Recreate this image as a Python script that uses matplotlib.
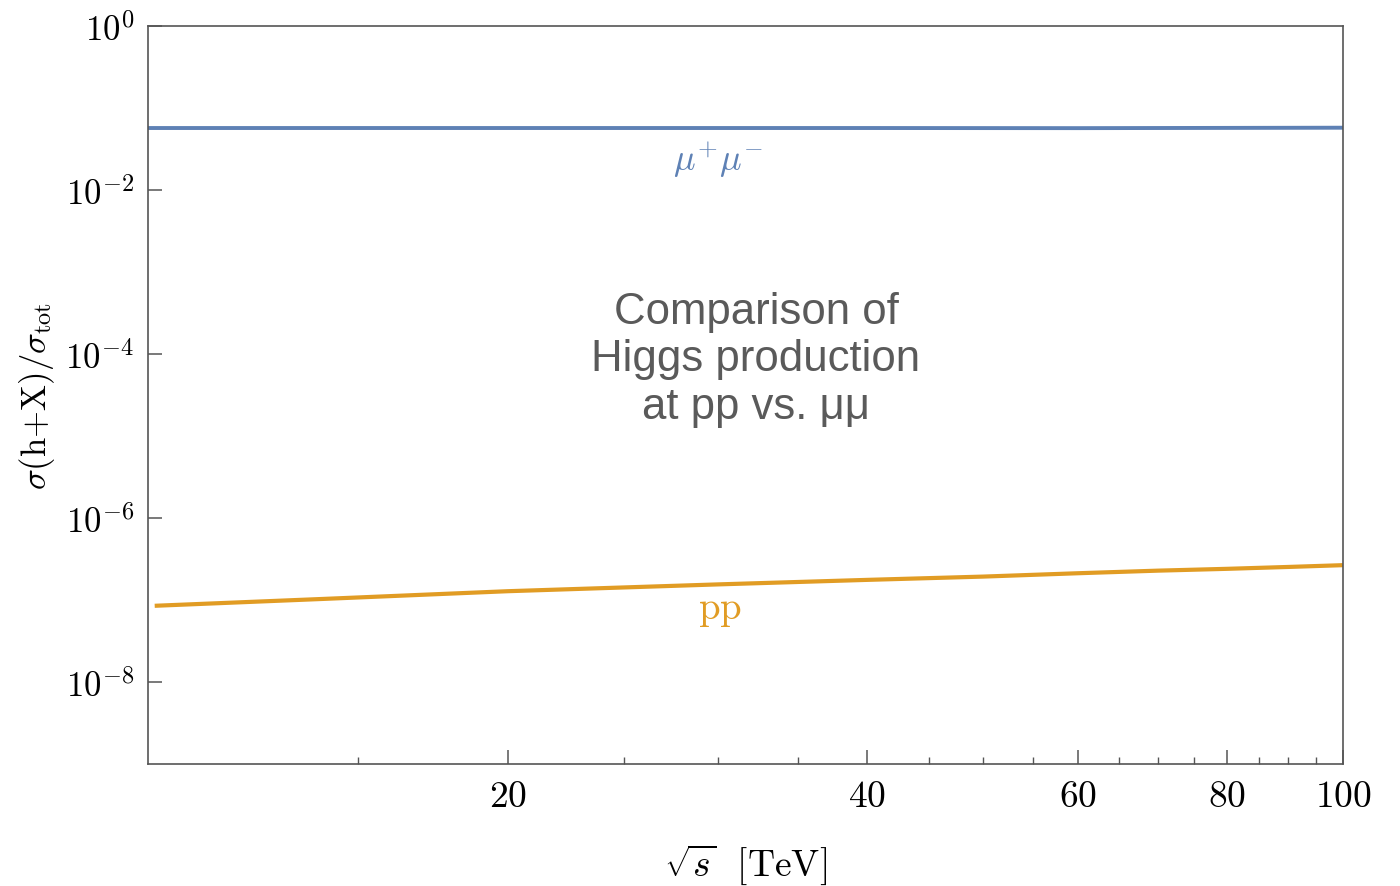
import numpy as np
import matplotlib
matplotlib.use('Agg')
import matplotlib.pyplot as plt
from matplotlib.ticker import FixedLocator, FixedFormatter, NullFormatter

plt.rcParams['mathtext.fontset'] = 'cm'
plt.rcParams['font.family'] = ['DejaVu Serif']

# Data
sqrt_s = [10.13, 14, 20, 30, 40, 50, 60, 70, 80, 90, 100]
ratio_pp = [8.5e-8, 1.03e-7, 1.28e-7, 1.55e-7, 1.76e-7, 1.93e-7,
            2.12e-7, 2.28e-7, 2.40e-7, 2.53e-7, 2.66e-7]
sqrt_s_mu = [10, 20, 40, 60, 80, 100]
ratio_mumu = [0.0570, 0.0570, 0.0570, 0.0568, 0.0572, 0.0575]

x_major = [20, 40, 60, 80, 100]
x_minor = [15, 25, 30, 35, 45, 50, 55, 65, 70, 75, 85, 90, 95]
y_major = [1e0, 1e-2, 1e-4, 1e-6, 1e-8]
y_labels = [r'$10^{0}$', r'$10^{-2}$', r'$10^{-4}$', r'$10^{-6}$', r'$10^{-8}$']

blue = '#5E81B5'
orange = '#E19C24'
frame = '#555555'

fig = plt.figure(figsize=(14, 8.87), dpi=100)
ax = fig.add_axes([148/1400, 1 - 765/887, (1343 - 148)/1400, (765 - 27)/887])

ax.plot(sqrt_s_mu, ratio_mumu, color=blue, lw=2.8, solid_capstyle='butt')
ax.plot(sqrt_s, ratio_pp, color=orange, lw=3.0, solid_capstyle='butt')

ax.set_xscale('log')
ax.set_yscale('log')
ax.set_xlim(10, 100)
ax.set_ylim(1e-9, 1)

ax.xaxis.set_major_locator(FixedLocator(x_major))
ax.xaxis.set_major_formatter(FixedFormatter([f'${v}$' for v in x_major]))
ax.xaxis.set_minor_locator(FixedLocator(x_minor))
ax.xaxis.set_minor_formatter(NullFormatter())
ax.yaxis.set_major_locator(FixedLocator(y_major))
ax.yaxis.set_major_formatter(FixedFormatter(y_labels))
ax.yaxis.set_minor_locator(FixedLocator([]))

for s in ax.spines.values():
    s.set_color(frame)
    s.set_linewidth(1.2)
ax.tick_params(which='both', direction='in', color=frame, top=False, right=False,
               labelcolor='black')
ax.tick_params(axis='x', labelsize=27)
ax.tick_params(axis='y', labelsize=25)
ax.tick_params(which='major', length=10, width=1.1, pad=10)
ax.tick_params(which='minor', length=5, width=1.0)

ax.set_xlabel(r'$\sqrt{s}\ \ [\mathrm{TeV}]$', fontsize=27, labelpad=20)
ax.set_ylabel(r'$\sigma(\mathrm{h{+}X})/\sigma_{\mathrm{tot}}$', fontsize=25, labelpad=6)

ax.text(30, 0.0238, r'$\mu^{+}\mu^{-}$', color=blue, fontsize=26, ha='center', va='center')
ax.text(30.1, 7.6e-8, r'$\mathrm{pp}$', color=orange, fontsize=28, ha='center', va='center')
ax.text(756 / 1400, 1 - 360 / 887, 'Comparison of\nHiggs production\nat pp vs. μμ',
        transform=fig.transFigure, ha='center', va='center', fontsize=31.5,
        color='#5a5a5a', family='Liberation Sans', linespacing=1.19)

fig.savefig('out.png', dpi=100)
